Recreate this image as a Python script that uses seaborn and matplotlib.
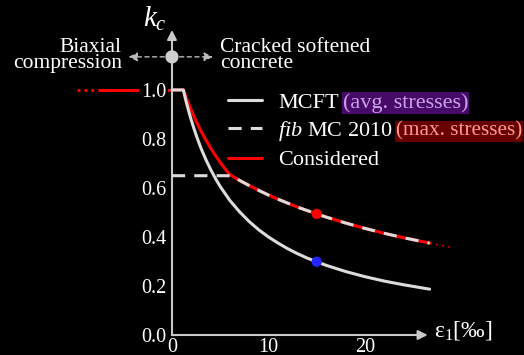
import matplotlib
matplotlib.use("Agg")
import matplotlib.pyplot as plt
import seaborn as sns
from matplotlib.lines import Line2D

# ---------------- data ----------------
mcft_eps = [0, 1.18, 1.4, 1.6, 1.8, 2.0, 2.3, 2.6, 3.0, 3.5, 4.0, 4.5, 5.0, 6.0,
            7.0, 8.0, 9.0, 10.0, 11.0, 12.0, 13.0, 14.0, 15.0, 16.0, 18.0, 20.0,
            22.0, 24.0, 26.7]
mcft_kc = [1.0, 1.0, 0.963, 0.933, 0.904, 0.877, 0.840, 0.805, 0.763, 0.717, 0.676,
           0.639, 0.606, 0.549, 0.503, 0.463, 0.429, 0.400, 0.375, 0.352, 0.332,
           0.314, 0.299, 0.284, 0.259, 0.238, 0.220, 0.205, 0.187]

fib_eps = [0, 6.2, 7, 8, 9, 10, 11, 12, 13, 14, 15, 16, 18, 20, 22, 24, 26.7]
fib_kc = [0.65, 0.65, 0.631, 0.610, 0.590, 0.571, 0.554, 0.538, 0.522, 0.508,
          0.494, 0.481, 0.457, 0.435, 0.415, 0.397, 0.375]

cons_eps = [0, 1.2, 1.5, 2.0, 2.5, 3.0, 3.5, 4.0, 4.5, 5.0, 5.5, 6.0, 6.2, 7, 8, 9,
            10, 11, 12, 13, 14, 15, 16, 18, 20, 22, 24, 26.7]
cons_kc = [1.0, 1.0, 0.966, 0.917, 0.873, 0.833, 0.797, 0.763, 0.733, 0.704, 0.678,
           0.654, 0.65, 0.631, 0.610, 0.590, 0.571, 0.554, 0.538, 0.522, 0.508,
           0.494, 0.481, 0.457, 0.435, 0.415, 0.397, 0.375]

cons_ext_eps = [26.7, 27.7, 28.8]
cons_ext_kc = [0.375, 0.367, 0.359]

biax_eps = [-7.5, 0]
biax_kc = [1.0, 1.0]
biax_dot_eps = [-9.8, -7.5]
biax_dot_kc = [1.0, 1.0]

point_eps = [15]
point_fib = [0.494]
point_mcft = [0.299]

yticks = [0.0, 0.2, 0.4, 0.6, 0.8, 1.0]
ytick_labels = ["0.0", "0.2", "0.4", "0.6", "0.8", "1.0"]
xticks = [0, 10, 20]
xtick_labels = ["0", "10", "20"]

legend_labels = ["MCFT", r"$\it{fib}$ MC 2010", "Considered"]
legend_notes = ["(avg. stresses)", "(max. stresses)"]

# ---------------- style ----------------
sns.set_theme(style="dark")
plt.rcParams["font.family"] = ["Liberation Serif", "DejaVu Serif"]
plt.rcParams["mathtext.fontset"] = "custom"
plt.rcParams["mathtext.rm"] = "Liberation Serif"
plt.rcParams["mathtext.it"] = "Liberation Serif:italic"
plt.rcParams["mathtext.bf"] = "Liberation Serif:bold"

BG = "black"
AXC = "#c8c8c8"
WHITE = "#dcdcdc"
RED = "#ff0000"

fig = plt.figure(figsize=(5.24, 3.55), dpi=100, facecolor=BG)
ax = fig.add_axes([0, 0, 1, 1])
ax.set_facecolor(BG)
ax.set_xlim(-17.82, 36.48)
ax.set_ylim(-0.0816, 1.367)
ax.set_axisbelow(False)

# curves
common = dict(ax=ax, sort=False, estimator=None, errorbar=None, legend=False)
sns.lineplot(x=cons_eps, y=cons_kc, color=RED, lw=2.2, zorder=2, **common)
sns.lineplot(x=biax_eps, y=biax_kc, color=RED, lw=2.2, zorder=1, **common)
sns.lineplot(x=biax_dot_eps, y=biax_dot_kc, color=RED, lw=2.0,
             linestyle=(0, (1, 1.5)), zorder=1, **common)
sns.lineplot(x=cons_ext_eps, y=cons_ext_kc, color="#b00000", lw=1.5,
             linestyle=(0, (1, 2)), zorder=1, **common)
sns.lineplot(x=mcft_eps, y=mcft_kc, color=WHITE, lw=2.2, zorder=3, **common)
sns.lineplot(x=fib_eps, y=fib_kc, color=WHITE, lw=2.2,
             linestyle=(0, (4.3, 3.0)), zorder=4, **common)

sns.scatterplot(x=point_eps, y=point_fib, color=RED, s=55, edgecolor="none",
                zorder=5, ax=ax, legend=False)
sns.scatterplot(x=point_eps, y=point_mcft, color="#2323ff", s=55, edgecolor="none",
                zorder=5, ax=ax, legend=False)

# axes (spines through the origin)
for s in ["top", "right"]:
    ax.spines[s].set_visible(False)
ax.spines["left"].set_position(("data", 0))
ax.spines["bottom"].set_position(("data", 0))
ax.spines["left"].set_bounds(0, 1.2)
ax.spines["bottom"].set_bounds(0, 25.5)
for s in ["left", "bottom"]:
    ax.spines[s].set_color(AXC)
    ax.spines[s].set_linewidth(1.5)
    ax.spines[s].set_zorder(2.6)

ax.annotate("", xy=(0, 1.245), xytext=(0, 1.19),
            arrowprops=dict(arrowstyle="-|>", color=AXC, lw=1.5,
                            mutation_scale=14, shrinkA=0, shrinkB=0))
ax.annotate("", xy=(26.5, 0), xytext=(25.4, 0),
            arrowprops=dict(arrowstyle="-|>", color=AXC, lw=1.5,
                            mutation_scale=14, shrinkA=0, shrinkB=0))

ax.set_yticks(yticks)
ax.set_yticklabels(ytick_labels)
ax.set_xticks(xticks)
ax.set_xticklabels(xtick_labels)
ax.tick_params(axis="y", direction="in", length=5, width=1.2, color=AXC,
               labelcolor="white", labelsize=14.5, pad=4)
ax.tick_params(axis="x", length=0, labelcolor="white", labelsize=14.5, pad=2)
for t in ax.get_yticklabels():
    t.set_bbox(dict(facecolor=BG, edgecolor="none", pad=1.5))

# axis titles
ax.text(-1.75, 1.29, r"$k_c$", color="white", fontsize=21, ha="center", va="center")
ax.text(27.2, 0.02, r"$\mathrm{\varepsilon}_1$[‰]", color="white", fontsize=17,
        ha="left", va="center")

# region annotations
ax.text(-5.2, 1.14, "Biaxial\ncompression", color="white", fontsize=15.5,
        ha="right", va="center", linespacing=0.8)
ax.text(4.95, 1.14, "Cracked softened\nconcrete", color="white", fontsize=15.5,
        ha="left", va="center", linespacing=0.8)
ARC = "#bbbbbb"
for tip in (-4.5, 4.25):
    ax.annotate("", xy=(tip, 1.135), xytext=(0, 1.135),
                arrowprops=dict(arrowstyle="-|>", color=ARC, lw=1.0, ls=(0, (3, 2.5)),
                                mutation_scale=13, shrinkA=0, shrinkB=0))
sns.scatterplot(x=[0], y=[1.135], color="#cfcfcf", s=90, edgecolor="none",
                zorder=6, ax=ax, legend=False, clip_on=False)

# legend
handles = [Line2D([], [], color=WHITE, lw=2.2),
           Line2D([], [], color=WHITE, lw=2.2, linestyle=(0, (4.3, 3.0))),
           Line2D([], [], color=RED, lw=2.2)]
leg = ax.legend(handles, legend_labels, loc="upper left",
                bbox_to_anchor=(228 / 524, 1 - 92 / 355), frameon=False,
                borderpad=0, borderaxespad=0, handlelength=1.55,
                handletextpad=0.7, labelspacing=0.3, fontsize=16)
leg.set_zorder(5)
for t in leg.get_texts():
    t.set_color("white")
texts = leg.get_texts()
note_styles = [("#c9a3e8", "#470a69", 16, 3), ("#ff9a8c", "#680000", 15.3, 2)]
for i, (note, (fc, bc, fs, off)) in enumerate(zip(legend_notes, note_styles)):
    ax.annotate(note, xy=(1, 0.5), xycoords=texts[i],
                xytext=(off, 0), textcoords="offset points", va="center", ha="left",
                fontsize=fs, color=fc, zorder=10,
                bbox=dict(facecolor=bc, edgecolor="none", pad=0.8))

fig.savefig("out.png", dpi=100, facecolor=BG)
